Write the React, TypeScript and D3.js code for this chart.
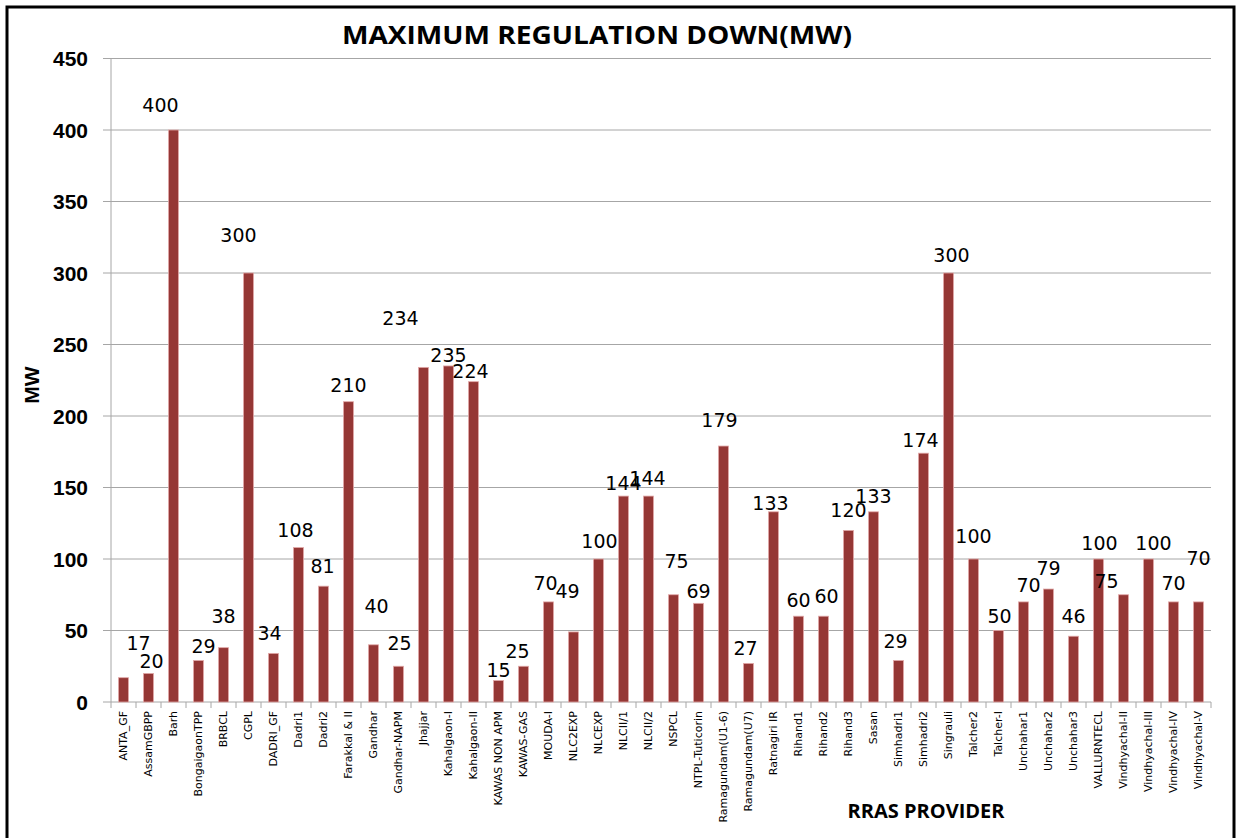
import React from "react";
import * as d3 from "d3";

const categories: string[] = [
  "ANTA_GF", "AssamGBPP", "Barh", "BongaigaonTPP", "BRBCL", "CGPL", "DADRI_GF", "Dadri1", "Dadri2",
  "Farakkal & II", "Gandhar", "Gandhar-NAPM", "Jhajjar", "Kahalgaon-I", "Kahalgaon-II", "KAWAS NON APM",
  "KAWAS-GAS", "MOUDA-I", "NLC2EXP", "NLCEXP", "NLCII/1", "NLCII/2", "NSPCL", "NTPL-Tuticorin",
  "Ramagundam(U1-6)", "Ramagundam(U7)", "Ratnagiri IR", "Rihand1", "Rihand2", "Rihand3", "Sasan",
  "Simhadri1", "Simhadri2", "Singrauli", "Talcher2", "Talcher-I", "Unchahar1", "Unchahar2", "Unchahar3",
  "VALLURNTECL", "Vindhyachal-II", "Vindhyachal-III", "Vindhyachal-IV", "Vindhyachal-V",
];

const values: number[] = [
  17, 20, 400, 29, 38, 300, 34, 108, 81, 210, 40, 25, 234, 235, 224, 15, 25, 70, 49, 100, 144, 144, 75,
  69, 179, 27, 133, 60, 60, 120, 133, 29, 174, 300, 100, 50, 70, 79, 46, 100, 75, 100, 70, 70,
];

const yTicks: number[] = [0, 50, 100, 150, 200, 250, 300, 350, 400, 450];

// data label nudges (px) as placed in the original chart
const labelDx: number[] = [
  15, 3, -13, 5, 0, -10, -4, -3, -1, 0, 3, 1, -23, 0, -3, 0, -6, -3, -6, 1, 0, -1, 3, 0, -4, -3, -3, 0, 3,
  0, 0, -3, -3, 3, 0, 1, 5, 0, 0, 1, -17, 5, 0, 0,
];
const labelDy: number[] = [
  -28, -5, -18, -8, -25, -31, -13, -11, -13, -10, -32, -16, -42, -4, -4, -4, -8, -12, -34, -11, -6, -11,
  -27, -5, -19, -8, -2, -9, -13, -13, -9, -13, -6, -11, -16, -8, -10, -14, -13, -9, -7, -9, -12, -37,
];

const W = 1239;
const H = 838;
const M = { left: 111, right: 1211, top: 58.5, bottom: 702 };

export default function App() {
  const x = d3.scaleBand<string>().domain(categories).range([M.left, M.right]).paddingInner(0).paddingOuter(0);
  const y = d3.scaleLinear().domain([0, 450]).range([M.bottom, M.top]);
  const bw = 10;
  const gridColor = "#a6a6a6";

  return (
    <svg width={W} height={H} style={{ position: "absolute", left: 0, top: 0, background: "#fff" }}>
      <rect x={0} y={0} width={W} height={H} fill="#fff" />
      <rect x={7} y={7} width={1227} height={850} fill="none" stroke="#000" strokeWidth={3} />

      <text
        x={597}
        y={44}
        textAnchor="middle"
        fontFamily="'Open Sans', 'Liberation Sans', sans-serif"
        fontWeight="bold"
        fontSize={25}
        textLength={510}
        lengthAdjust="spacingAndGlyphs"
        fill="#000"
      >
        MAXIMUM REGULATION DOWN(MW)
      </text>

      {/* gridlines and y ticks */}
      {yTicks.map((t) => (
        <g key={t}>
          <line x1={103} x2={M.right} y1={y(t)} y2={y(t)} stroke={gridColor} strokeWidth={1} />
          <text
            x={88}
            y={y(t)}
            dy="0.36em"
            textAnchor="end"
            fontFamily="'Liberation Sans', Arial, sans-serif"
            fontWeight="bold"
            fontSize={21}
            fill="#000"
          >
            {t}
          </text>
        </g>
      ))}

      {/* y axis */}
      <line x1={M.left} x2={M.left} y1={M.top} y2={M.bottom} stroke={gridColor} strokeWidth={1} />

      {/* x ticks */}
      {categories.map((c, i) => (
        <line
          key={"t" + i}
          x1={(x(c) as number)}
          x2={(x(c) as number)}
          y1={M.bottom}
          y2={M.bottom + 6}
          stroke={gridColor}
          strokeWidth={1}
        />
      ))}
      <line x1={M.right} x2={M.right} y1={M.bottom} y2={M.bottom + 6} stroke={gridColor} strokeWidth={1} />

      {/* bars */}
      {categories.map((c, i) => {
        const cx = (x(c) as number) + x.bandwidth() / 2;
        return (
          <rect
            key={"b" + i}
            x={cx - bw / 2}
            y={y(values[i])}
            width={bw}
            height={M.bottom - y(values[i])}
            fill="#953735"
            stroke="#e2a9a8"
            strokeWidth={0.8}
          />
        );
      })}

      {/* data labels */}
      {categories.map((c, i) => {
        const cx = (x(c) as number) + x.bandwidth() / 2;
        return (
          <text
            key={"l" + i}
            x={cx + labelDx[i]}
            y={y(values[i]) + labelDy[i]}
            textAnchor="middle"
            fontFamily="'DejaVu Sans', sans-serif"
            fontSize={19}
            fill="#000"
          >
            {values[i]}
          </text>
        );
      })}

      {/* category labels */}
      {categories.map((c, i) => {
        const cx = (x(c) as number) + x.bandwidth() / 2;
        return (
          <text
            key={"c" + i}
            transform={`translate(${cx},${711}) rotate(-90)`}
            textAnchor="end"
            dominantBaseline="central"
            fontFamily="'DejaVu Sans', sans-serif"
            fontSize={11}
            fill="#000"
          >
            {c}
          </text>
        );
      })}

      {/* axis titles */}
      <text
        transform={`translate(31,385) rotate(-90)`}
        textAnchor="middle"
        dominantBaseline="central"
        fontFamily="'Liberation Sans', Arial, sans-serif"
        fontWeight="bold"
        fontSize={21}
        fill="#000"
      >
        MW
      </text>
      <text
        x={926}
        y={818}
        textAnchor="middle"
        fontFamily="'Open Sans', 'Liberation Sans', sans-serif"
        fontWeight="bold"
        fontSize={20}
        fill="#000"
      >
        RRAS PROVIDER
      </text>
    </svg>
  );
}
